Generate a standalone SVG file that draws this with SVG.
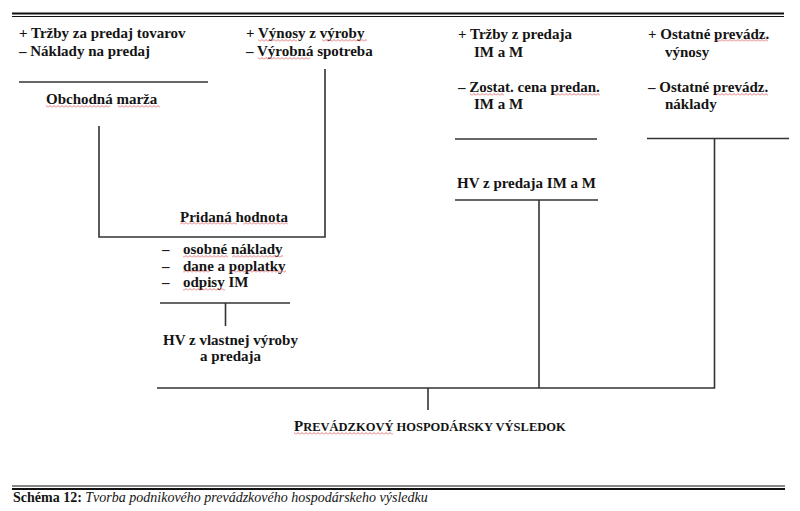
<svg xmlns="http://www.w3.org/2000/svg" width="800" height="511" viewBox="0 0 800 511">
<style>
text{font-family:"Liberation Serif","Times New Roman",serif;font-size:15px;font-weight:bold;fill:#141414}
.ln{stroke:#333;stroke-width:1.6;fill:none}
.sq{fill:url(#squig)}
.cap{font-size:14px}
.it{font-weight:normal;font-style:italic}
.mid{text-anchor:middle}
</style>
<defs>
<pattern id="squig" width="4" height="3" patternUnits="userSpaceOnUse">
<path d="M0,2.5 L2,0.5 L4,2.5" stroke="#d23c3c" stroke-width="0.7" fill="none"/>
</pattern>
</defs>
<rect width="800" height="511" fill="#fff"/>
<g id="frame">
<line x1="12" y1="13.5" x2="784" y2="13.5" stroke="#111" stroke-width="2"/>
<line x1="12" y1="16.5" x2="784" y2="16.5" stroke="#111" stroke-width="1"/>
<line x1="12" y1="486" x2="785" y2="486" stroke="#111" stroke-width="1"/>
<line x1="12" y1="489" x2="785" y2="489" stroke="#111" stroke-width="2"/>
</g>
<g id="connectors">
<line class="ln" x1="19" y1="82" x2="208" y2="82"/>
<path class="ln" d="M99,126 V237 H325 V69"/>
<line class="ln" x1="160" y1="303" x2="290" y2="303"/>
<line class="ln" x1="225.5" y1="303" x2="225.5" y2="326"/>
<line class="ln" x1="455" y1="139" x2="597" y2="139"/>
<line class="ln" x1="455" y1="200" x2="598" y2="200"/>
<line class="ln" x1="539" y1="200" x2="539" y2="388"/>
<line class="ln" x1="647" y1="138.5" x2="789" y2="138.5"/>
<path class="ln" d="M157,388 H714.5 V138.5"/>
<line class="ln" x1="428" y1="388" x2="428" y2="410"/>
</g>
<g id="node-obchod">
<text x="19" y="38">+ Tržby za predaj tovarov</text>
<text x="19" y="55.5">– Náklady na predaj</text>
<text x="46" y="104">Obchodná marža</text>
<rect class="sq" x="46" y="105" width="64" height="3"/>
<rect class="sq" x="118" y="105" width="42" height="3"/>
</g>
<g id="node-vyroba">
<text x="246" y="38">+ Výnosy z výroby</text>
<text x="246" y="55.5">– Výrobná spotreba</text>
<rect class="sq" x="258" y="39" width="39" height="3"/>
<rect class="sq" x="322" y="39" width="45" height="3"/>
<rect class="sq" x="258" y="57" width="52" height="3"/>
</g>
<g id="node-pridana">
<text x="180" y="222">Pridaná hodnota</text>
<rect class="sq" x="180" y="222" width="57" height="3"/>
<rect class="sq" x="243" y="222" width="45" height="3"/>
</g>
<g id="node-odpocty">
<text x="162" y="254">–</text>
<text x="183" y="254">osobné náklady</text>
<text x="162" y="270.5">–</text>
<text x="183" y="270.5">dane a poplatky</text>
<text x="162" y="287">–</text>
<text x="183" y="287">odpisy IM</text>
<rect class="sq" x="183" y="255" width="45" height="3"/>
<rect class="sq" x="232" y="255" width="51" height="3"/>
<rect class="sq" x="183" y="270" width="27" height="3"/>
<rect class="sq" x="230" y="270" width="56" height="3"/>
<rect class="sq" x="183" y="288" width="42" height="3"/>
</g>
<g id="node-hv-vyroba">
<text class="mid" x="230.5" y="345">HV z vlastnej výroby</text>
<text class="mid" x="230.5" y="361">a predaja</text>
</g>
<g id="node-predaj-im">
<text x="458" y="39">+ Tržby z predaja</text>
<text x="474" y="56.5">IM a M</text>
<text x="458" y="91.5">– Zostat. cena predan.</text>
<text x="474" y="109">IM a M</text>
<rect class="sq" x="470" y="93" width="34" height="3"/>
<rect class="sq" x="553" y="93" width="47" height="3"/>
</g>
<g id="node-hv-predaj">
<text x="457" y="188">HV z predaja IM a M</text>
</g>
<g id="node-ostatne">
<text x="648" y="39">+ Ostatné prevádz.</text>
<text x="665" y="56.5">výnosy</text>
<text x="648" y="91.5">– Ostatné prevádz.</text>
<text x="665" y="109">náklady</text>
<rect class="sq" x="715" y="39" width="53" height="3"/>
<rect class="sq" x="715" y="93" width="53" height="3"/>
</g>
<g id="node-vysledok">
<text x="294" y="431"><tspan>P</tspan><tspan font-size="12.5">REVÁDZKOVÝ HOSPODÁRSKY VÝSLEDOK</tspan></text>
<rect class="sq" x="294" y="432" width="99" height="3"/>
</g>
<g id="caption">
<text class="cap" x="13" y="501.5">Schéma 12: <tspan class="it">Tvorba podnikového prevádzkového hospodárskeho výsledku</tspan></text>
</g>
</svg>
